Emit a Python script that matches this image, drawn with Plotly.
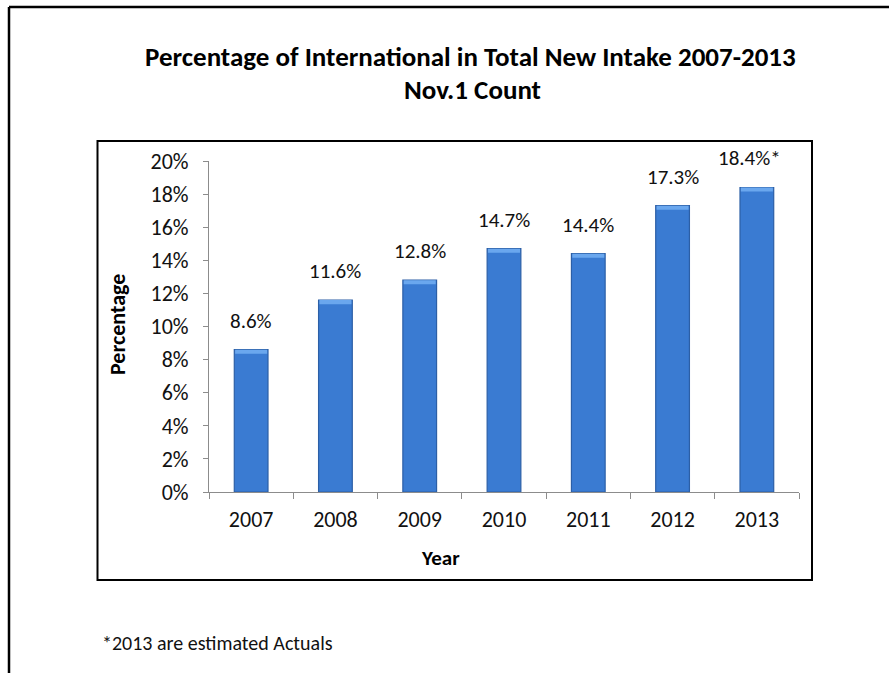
import plotly.graph_objects as go

# Chart data
years = ["2007", "2008", "2009", "2010", "2011", "2012", "2013"]
share_pct = [8.6, 11.6, 12.8, 14.7, 14.4, 17.3, 18.4]
label_suffix = ["", "", "", "", "", "", "*"]
y_ticks = [0, 2, 4, 6, 8, 10, 12, 14, 16, 18, 20]

W, H = 889, 673
# plot area in pixels
PL, PR, PT, PB = 209, 799, 161, 492

def px(x):
    return (x - PL) / (PR - PL)

def py(y):
    return (PB - y) / (PB - PT)

FONT = "Carlito, Lato, sans-serif"
BAR = "#3a7bd2"
EDGE = "#2c5fa6"
CAP = "#6aa7ee"
AXIS = "#8c8c8c"

fig = go.Figure()
fig.add_trace(go.Bar(
    x=years, y=share_pct,
    marker=dict(color=BAR, line=dict(color=EDGE, width=1.2)),
    width=0.4, hoverinfo="skip", showlegend=False,
))
# lighter bevel along the top of each bar
cap_h = 0.25
fig.add_trace(go.Bar(
    x=years, y=[cap_h] * len(years), base=[v - cap_h for v in share_pct],
    marker=dict(color=CAP, line=dict(width=0)),
    width=0.38, hoverinfo="skip", showlegend=False,
))

annotations = []
for i, (v, s) in enumerate(zip(share_pct, label_suffix)):
    annotations.append(dict(
        x=i, y=v, xref="x", yref="y", text=f"{v}%{s}", showarrow=False,
        yanchor="middle", yshift=29, xshift=-7 if s else 0,
        font=dict(family=FONT, size=21, color="#111111"),
    ))

annotations += [
    dict(x=px(470), y=py(57), xref="paper", yref="paper", showarrow=False,
         text="<b>Percentage of International in Total New Intake 2007-2013</b>",
         font=dict(family=FONT, size=27, color="#000000"), xanchor="center", yanchor="middle"),
    dict(x=px(472), y=py(90), xref="paper", yref="paper", showarrow=False,
         text="<b>Nov.1 Count</b>",
         font=dict(family=FONT, size=27, color="#000000"), xanchor="center", yanchor="middle"),
    dict(x=px(117), y=py(325), xref="paper", yref="paper", showarrow=False,
         text="<b>Percentage</b>", textangle=-90,
         font=dict(family=FONT, size=22, color="#000000"), xanchor="center", yanchor="middle"),
    dict(x=px(440), y=py(558), xref="paper", yref="paper", showarrow=False,
         text="<b>Year</b>",
         font=dict(family=FONT, size=21, color="#000000"), xanchor="center", yanchor="middle"),
    dict(x=px(100), y=py(643), xref="paper", yref="paper", showarrow=False,
         text="*2013 are estimated Actuals",
         font=dict(family=FONT, size=20, color="#111111"), xanchor="left", yanchor="middle"),
]

shapes = [
    # outer frame (top and left edges)
    dict(type="line", xref="paper", yref="paper", x0=px(9), x1=px(W + 5), y0=py(7), y1=py(7),
         line=dict(color="#000000", width=2.5)),
    dict(type="line", xref="paper", yref="paper", x0=px(9), x1=px(9), y0=py(7), y1=py(H + 5),
         line=dict(color="#000000", width=2.5)),
    # chart box
    dict(type="rect", xref="paper", yref="paper", x0=px(97.5), x1=px(812), y0=py(141), y1=py(580),
         line=dict(color="#000000", width=2)),
]

fig.update_layout(
    width=W, height=H,
    margin=dict(l=PL, r=W - PR, t=PT, b=H - PB, pad=0),
    paper_bgcolor="#ffffff", plot_bgcolor="#ffffff",
    barmode="overlay", bargap=0.6,
    annotations=annotations, shapes=shapes,
    font=dict(family=FONT, size=16, color="#111111"),
)
fig.update_xaxes(
    type="category", range=[-0.5, len(years) - 0.5], autorange=False,
    showgrid=False, zeroline=False,
    showline=True, linecolor=AXIS, linewidth=1,
    ticks="outside", ticklen=6, tickcolor=AXIS, tickson="boundaries",
    ticklabelstandoff=8, tickangle=0,
    tickfont=dict(family=FONT, size=22, color="#111111"),
)
fig.update_yaxes(
    range=[0, 20], autorange=False, tickvals=y_ticks, ticktext=[f"{t}%" for t in y_ticks],
    showgrid=False, zeroline=False,
    showline=True, linecolor=AXIS, linewidth=1,
    ticks="outside", ticklen=5, tickcolor=AXIS,
    ticklabelstandoff=10,
    tickfont=dict(family=FONT, size=22, color="#111111"),
)

fig.write_html("out.html")
